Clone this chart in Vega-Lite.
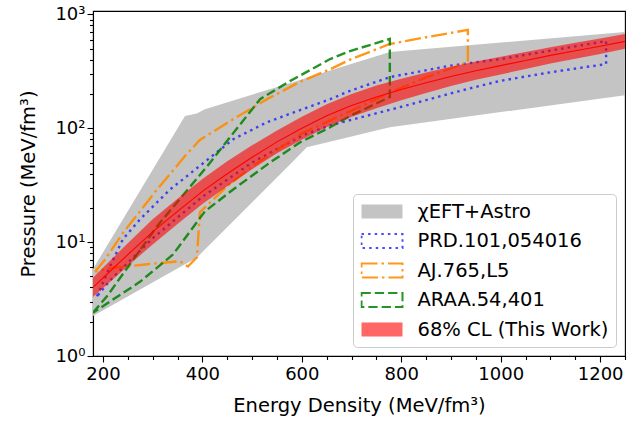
{
  "$schema": "https://vega.github.io/schema/vega-lite/v6.json",
  "autosize": {"type": "none"},
  "padding": {"left": 93, "top": 11, "right": 17, "bottom": 68},
  "width": 532,
  "height": 345,
  "background": "white",
  "datasets": {
    "gray": [
      {"E": 180, "lo": 2.24, "P": 5.8},
      {"E": 365, "lo": 6.4, "P": 128},
      {"E": 389, "lo": 7.3, "P": 135},
      {"E": 405, "lo": 8.6, "P": 147},
      {"E": 582, "lo": 51, "P": 254},
      {"E": 610, "lo": 68, "P": 277},
      {"E": 777, "lo": 102, "P": 467},
      {"E": 1250, "lo": 195, "P": 700}
    ],
    "red": [
      {"E": 180, "lo": 3.29, "P": 4.86},
      {"E": 200, "lo": 3.94, "P": 5.96},
      {"E": 250, "lo": 6.17, "P": 9.77},
      {"E": 300, "lo": 9.55, "P": 15.85},
      {"E": 350, "lo": 14.45, "P": 24.0},
      {"E": 400, "lo": 21.6, "P": 35.9},
      {"E": 450, "lo": 30.9, "P": 51.3},
      {"E": 500, "lo": 43.7, "P": 70.8},
      {"E": 550, "lo": 60.3, "P": 95.5},
      {"E": 600, "lo": 79.4, "P": 125.9},
      {"E": 650, "lo": 102.3, "P": 162.2},
      {"E": 700, "lo": 125.9, "P": 199.5},
      {"E": 750, "lo": 149.6, "P": 237.1},
      {"E": 800, "lo": 175.8, "P": 272.3},
      {"E": 850, "lo": 204.2, "P": 309.0},
      {"E": 900, "lo": 234.4, "P": 346.7},
      {"E": 950, "lo": 266.1, "P": 384.6},
      {"E": 1000, "lo": 296.5, "P": 424.6},
      {"E": 1050, "lo": 331.1, "P": 467.7},
      {"E": 1100, "lo": 369.8, "P": 515.2},
      {"E": 1150, "lo": 407.4, "P": 562.3},
      {"E": 1200, "lo": 448.7, "P": 613.8},
      {"E": 1250, "lo": 498.9, "P": 673.0}
    ],
    "redc": [
      {"E": 180, "P": 4.0}, {"E": 200, "P": 4.84}, {"E": 250, "P": 7.76},
      {"E": 300, "P": 12.3}, {"E": 350, "P": 18.6}, {"E": 400, "P": 27.9},
      {"E": 450, "P": 39.8}, {"E": 500, "P": 55.6}, {"E": 550, "P": 75.9},
      {"E": 600, "P": 100}, {"E": 650, "P": 128.8}, {"E": 700, "P": 158.5},
      {"E": 750, "P": 188.4}, {"E": 800, "P": 218.8}, {"E": 850, "P": 251.2},
      {"E": 900, "P": 285.1}, {"E": 950, "P": 319.9}, {"E": 1000, "P": 354.8},
      {"E": 1050, "P": 393.6}, {"E": 1100, "P": 436.5}, {"E": 1150, "P": 478.6},
      {"E": 1200, "P": 524.8}, {"E": 1250, "P": 579.4}
    ],
    "lines": [
      {"s": "PRD.101,054016", "i": 0, "E": 188, "P": 3.34},
      {"s": "PRD.101,054016", "i": 1, "E": 214, "P": 6.1},
      {"s": "PRD.101,054016", "i": 2, "E": 240, "P": 10.6},
      {"s": "PRD.101,054016", "i": 3, "E": 275, "P": 15.9},
      {"s": "PRD.101,054016", "i": 4, "E": 309, "P": 22.4},
      {"s": "PRD.101,054016", "i": 5, "E": 335, "P": 29},
      {"s": "PRD.101,054016", "i": 6, "E": 369, "P": 38},
      {"s": "PRD.101,054016", "i": 7, "E": 462, "P": 80},
      {"s": "PRD.101,054016", "i": 8, "E": 530, "P": 113},
      {"s": "PRD.101,054016", "i": 9, "E": 657, "P": 180},
      {"s": "PRD.101,054016", "i": 10, "E": 697, "P": 213},
      {"s": "PRD.101,054016", "i": 11, "E": 777, "P": 281},
      {"s": "PRD.101,054016", "i": 12, "E": 898, "P": 354},
      {"s": "PRD.101,054016", "i": 13, "E": 1000, "P": 405},
      {"s": "PRD.101,054016", "i": 14, "E": 1100, "P": 480},
      {"s": "PRD.101,054016", "i": 15, "E": 1212, "P": 583},
      {"s": "PRD.101,054016", "i": 16, "E": 1212, "P": 366},
      {"s": "PRD.101,054016", "i": 17, "E": 1100, "P": 310},
      {"s": "PRD.101,054016", "i": 18, "E": 998, "P": 260},
      {"s": "PRD.101,054016", "i": 19, "E": 924, "P": 216},
      {"s": "PRD.101,054016", "i": 20, "E": 797, "P": 153},
      {"s": "PRD.101,054016", "i": 21, "E": 657, "P": 106},
      {"s": "PRD.101,054016", "i": 22, "E": 600, "P": 86},
      {"s": "PRD.101,054016", "i": 23, "E": 500, "P": 50},
      {"s": "PRD.101,054016", "i": 24, "E": 400, "P": 25},
      {"s": "PRD.101,054016", "i": 25, "E": 300, "P": 10.8},
      {"s": "PRD.101,054016", "i": 26, "E": 250, "P": 6.6},
      {"s": "PRD.101,054016", "i": 27, "E": 214, "P": 4.6},
      {"s": "PRD.101,054016", "i": 28, "E": 188, "P": 3.34},
      {"s": "AJ.765,L5", "i": 0, "E": 184, "P": 5.5},
      {"s": "AJ.765,L5", "i": 1, "E": 204, "P": 7.0},
      {"s": "AJ.765,L5", "i": 2, "E": 240, "P": 12},
      {"s": "AJ.765,L5", "i": 3, "E": 309, "P": 29},
      {"s": "AJ.765,L5", "i": 4, "E": 365, "P": 57},
      {"s": "AJ.765,L5", "i": 5, "E": 395, "P": 79},
      {"s": "AJ.765,L5", "i": 6, "E": 462, "P": 120},
      {"s": "AJ.765,L5", "i": 7, "E": 530, "P": 180},
      {"s": "AJ.765,L5", "i": 8, "E": 596, "P": 255},
      {"s": "AJ.765,L5", "i": 9, "E": 657, "P": 330},
      {"s": "AJ.765,L5", "i": 10, "E": 697, "P": 400},
      {"s": "AJ.765,L5", "i": 11, "E": 777, "P": 549},
      {"s": "AJ.765,L5", "i": 12, "E": 850, "P": 630},
      {"s": "AJ.765,L5", "i": 13, "E": 934, "P": 730},
      {"s": "AJ.765,L5", "i": 14, "E": 934, "P": 381},
      {"s": "AJ.765,L5", "i": 15, "E": 850, "P": 280},
      {"s": "AJ.765,L5", "i": 16, "E": 777, "P": 205},
      {"s": "AJ.765,L5", "i": 17, "E": 697, "P": 141},
      {"s": "AJ.765,L5", "i": 18, "E": 600, "P": 90},
      {"s": "AJ.765,L5", "i": 19, "E": 500, "P": 46},
      {"s": "AJ.765,L5", "i": 20, "E": 450, "P": 31},
      {"s": "AJ.765,L5", "i": 21, "E": 395, "P": 18.3},
      {"s": "AJ.765,L5", "i": 22, "E": 389, "P": 7.35},
      {"s": "AJ.765,L5", "i": 23, "E": 371, "P": 6.1},
      {"s": "AJ.765,L5", "i": 24, "E": 355, "P": 6.8},
      {"s": "AJ.765,L5", "i": 25, "E": 289, "P": 6.4},
      {"s": "AJ.765,L5", "i": 26, "E": 214, "P": 5.9},
      {"s": "AJ.765,L5", "i": 27, "E": 184, "P": 5.5},
      {"s": "ARAA.54,401", "i": 0, "E": 180, "P": 2.4},
      {"s": "ARAA.54,401", "i": 1, "E": 208, "P": 3.34},
      {"s": "ARAA.54,401", "i": 2, "E": 309, "P": 13.8},
      {"s": "ARAA.54,401", "i": 3, "E": 409, "P": 46},
      {"s": "ARAA.54,401", "i": 4, "E": 516, "P": 180},
      {"s": "ARAA.54,401", "i": 5, "E": 576, "P": 259},
      {"s": "ARAA.54,401", "i": 6, "E": 657, "P": 405},
      {"s": "ARAA.54,401", "i": 7, "E": 697, "P": 476},
      {"s": "ARAA.54,401", "i": 8, "E": 777, "P": 608},
      {"s": "ARAA.54,401", "i": 9, "E": 777, "P": 188},
      {"s": "ARAA.54,401", "i": 10, "E": 697, "P": 128},
      {"s": "ARAA.54,401", "i": 11, "E": 657, "P": 102},
      {"s": "ARAA.54,401", "i": 12, "E": 596, "P": 75},
      {"s": "ARAA.54,401", "i": 13, "E": 536, "P": 50},
      {"s": "ARAA.54,401", "i": 14, "E": 462, "P": 29},
      {"s": "ARAA.54,401", "i": 15, "E": 405, "P": 18.6},
      {"s": "ARAA.54,401", "i": 16, "E": 341, "P": 7.8},
      {"s": "ARAA.54,401", "i": 17, "E": 275, "P": 4.5},
      {"s": "ARAA.54,401", "i": 18, "E": 180, "P": 2.4}
    ]
  },
  "encoding": {
    "x": {
      "field": "E", "type": "quantitative",
      "title": "Energy Density (MeV/fm³)",
      "scale": {"domain": [180, 1250], "nice": false, "zero": false},
      "axis": {
        "values": [200, 250, 300, 350, 400, 450, 500, 550, 600, 650, 700, 750, 800, 850, 900, 950, 1000, 1050, 1100, 1150, 1200, 1250],
        "format": "d",
        "labelExpr": "datum.value % 200 == 0 ? datum.label : ''",
        "tickSize": {"condition": {"test": "datum.value % 200 == 0", "value": 6}, "value": 3.5},
        "labelPadding": 3,
        "titlePadding": 13
      }
    },
    "y": {
      "field": "P", "type": "quantitative",
      "title": "Pressure (MeV/fm³)",
      "scale": {"type": "log", "domain": [1, 1070], "nice": false},
      "axis": {
        "values": [1, 2, 3, 4, 5, 6, 7, 8, 9, 10, 20, 30, 40, 50, 60, 70, 80, 90, 100, 200, 300, 400, 500, 600, 700, 800, 900, 1000],
        "labelExpr": "datum.value == 1 ? '10⁰' : datum.value == 10 ? '10¹' : datum.value == 100 ? '10²' : datum.value == 1000 ? '10³' : ''",
        "tickSize": {"condition": {"test": "datum.value == 1 || datum.value == 10 || datum.value == 100 || datum.value == 1000", "value": 6}, "value": 3.5},
        "labelPadding": 2,
        "titlePadding": 16
      }
    }
  },
  "layer": [
    {
      "data": {"name": "gray"},
      "mark": {"type": "area", "clip": true},
      "encoding": {
        "y2": {"field": "lo"},
        "fill": {
          "datum": "χEFT+Astro", "type": "nominal",
          "scale": {
            "domain": ["χEFT+Astro", "PRD.101,054016", "AJ.765,L5", "ARAA.54,401", "68% CL (This Work)"],
            "range": ["#c4c4c4", "transparent", "transparent", "transparent", "rgba(255,0,0,0.6)"]
          },
          "legend": {"title": null, "symbolType": "M-1,-0.34H1V0.34H-1Z"}
        }
      }
    },
    {
      "data": {"name": "lines"},
      "mark": {"type": "line", "clip": true, "strokeWidth": 2.4, "strokeJoin": "miter"},
      "encoding": {
        "order": {"field": "i"},
        "stroke": {
          "field": "s", "type": "nominal",
          "scale": {
            "domain": ["χEFT+Astro", "PRD.101,054016", "AJ.765,L5", "ARAA.54,401", "68% CL (This Work)"],
            "range": ["transparent", "rgba(30,30,255,0.8)", "rgba(255,140,0,0.9)", "rgba(0,128,0,0.85)", "transparent"]
          },
          "legend": {"title": null, "symbolType": "M-1,-0.34H1V0.34H-1Z"}
        },
        "strokeDash": {
          "field": "s", "type": "nominal",
          "scale": {
            "domain": ["χEFT+Astro", "PRD.101,054016", "AJ.765,L5", "ARAA.54,401", "68% CL (This Work)"],
            "range": [[1, 0], [2.5, 4.1], [16, 4, 2.5, 4], [9.3, 4], [1, 0]]
          },
          "legend": {"title": null, "symbolType": "M-1,-0.34H1V0.34H-1Z"}
        }
      }
    },
    {
      "data": {"name": "red"},
      "mark": {"type": "area", "clip": true},
      "encoding": {
        "y2": {"field": "lo"},
        "fill": {"datum": "68% CL (This Work)", "type": "nominal"}
      }
    },
    {
      "data": {"name": "redc"},
      "mark": {"type": "line", "clip": true, "color": "red", "strokeWidth": 1.1},
      "encoding": {}
    }
  ],
  "config": {
    "view": {"stroke": "black", "strokeWidth": 1.1},
    "axis": {
      "labelFont": "DejaVu Sans", "labelFontSize": 18, "labelColor": "black",
      "titleFont": "DejaVu Sans", "titleFontSize": 19.5, "titleFontWeight": "normal", "titleColor": "black",
      "tickColor": "black", "tickWidth": 1.1, "domainColor": "black", "domainWidth": 1.1,
      "grid": false, "labelFlush": false, "labelOverlap": false
    },
    "legend": {
      "orient": "bottom-right", "offset": 9,
      "labelFont": "DejaVu Sans", "labelFontSize": 19.5, "labelColor": "black", "labelLimit": 400,
      "symbolSize": 1681, "symbolStrokeWidth": 2,
      "clipHeight": 20, "rowPadding": 9.5, "labelOffset": 14, "padding": 7.5,
      "strokeColor": "#cccccc", "cornerRadius": 4, "fillColor": "rgba(255,255,255,0.8)"
    }
  }
}
